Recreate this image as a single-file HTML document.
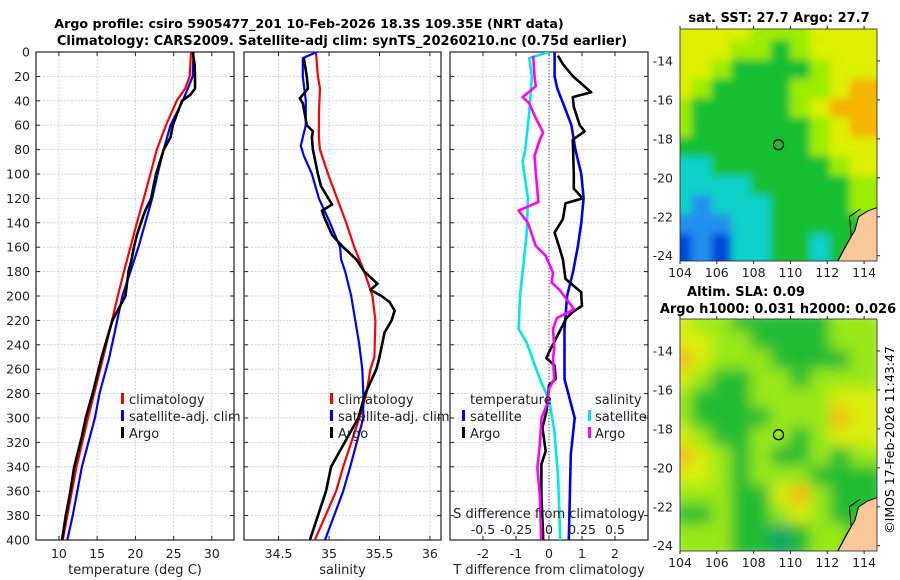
<!DOCTYPE html>
<html><head><meta charset="utf-8"><style>
html,body{margin:0;padding:0;background:#fff;}
svg{display:block;font-family:"DejaVu Sans","Liberation Sans",sans-serif;}
</style></head><body>
<svg id="fig" width="900" height="580" viewBox="0 0 900 580" xmlns="http://www.w3.org/2000/svg">
<text x="309" y="28" text-anchor="middle" font-size="12.7" font-weight="bold">Argo profile: csiro 5905477_201 10-Feb-2026 18.3S 109.35E (NRT data)</text>
<text x="342" y="45" text-anchor="middle" font-size="13" font-weight="bold">Climatology: CARS2009. Satellite-adj clim: synTS_20260210.nc (0.75d earlier)</text>
<text x="779" y="22" text-anchor="middle" font-size="13" font-weight="bold">sat. SST: 27.7 Argo: 27.7</text>
<text x="746" y="296" text-anchor="middle" font-size="13" font-weight="bold">Altim. SLA: 0.09</text>
<text x="778" y="313" text-anchor="middle" font-size="13" font-weight="bold">Argo h1000: 0.031 h2000: 0.026</text>
<text transform="translate(894,440) rotate(-90)" text-anchor="middle" font-size="12.5">©IMOS 17-Feb-2026 11:43:47</text>
<defs><filter id="blur" x="0" y="0" width="1" height="1"><feGaussianBlur stdDeviation="7"/></filter>
<filter id="blur2" x="0" y="0" width="1" height="1"><feGaussianBlur stdDeviation="4"/></filter>
<clipPath id="c1"><rect x="680" y="29" width="197" height="232"/></clipPath>
<clipPath id="c2"><rect x="680" y="319" width="197" height="232"/></clipPath>
<clipPath id="p1"><rect x="36" y="52" width="198" height="488"/></clipPath>
<clipPath id="p2"><rect x="244" y="52" width="197" height="488"/></clipPath>
<clipPath id="p3"><rect x="450" y="52" width="198" height="488"/></clipPath>
</defs>
</svg>
<script>
// ---- data ----
const depthTick = [0,20,40,60,80,100,120,140,160,180,200,220,240,260,280,300,320,340,360,380,400];
const tTicks = [10,15,20,25,30];
const sTicks = [34.5,35,35.5,36];
const dTicks = [-2,-1,0,1,2];
const sdTicks = [-0.5,-0.25,0,0.25,0.5];
const sdTickLabels = ['-0.5','-0.25','0','0.25','0.5'];
const lonTicks = [104,106,108,110,112,114];
const latTicks = [-14,-16,-18,-20,-22,-24];

const tClimDepth = [0,20,30,40,60,80,100,120,140,160,180,200,250,280,300,340,380,400];
const tClim      = [27.27,27.1,26.5,25.4,24.0,22.8,21.96,21.1,20.2,19.35,18.5,17.7,15.8,14.6,13.8,12.3,11.1,10.5];
const tSatDepth  = [0,20,40,60,80,100,120,140,160,180,200,250,280,300,340,380,400];
const tSat       = [27.6,27.5,26.2,24.6,23.7,22.9,22.2,21.3,20.4,19.35,18.3,16.6,15.3,14.7,13.0,11.8,11.1];
const tArgoDepth = [0,10,20,30,35,40,60,70,80,100,120,130,135,150,160,170,180,200,220,250,280,300,315,340,360,380,400];
const tArgo      = [27.5,27.75,27.8,27.8,27.2,26.1,24.9,24.6,23.7,22.7,22.05,21.3,21.0,20.2,19.8,19.5,19.1,18.7,17.0,15.6,14.4,13.5,13.0,12.0,11.5,10.9,10.4];

const sClimDepth = [0,20,30,50,70,80,100,120,140,160,180,200,220,250,260,280,300,340,360,400];
const sClim      = [34.87,34.89,34.91,34.90,34.90,34.91,34.99,35.08,35.17,35.25,35.35,35.43,35.46,35.45,35.41,35.37,35.30,35.14,35.07,34.86];
const sSatDepth  = [0,5,20,40,60,70,77,85,100,120,140,160,170,180,200,240,260,280,300,340,360,400];
const sSat       = [34.88,34.74,34.74,34.77,34.77,34.74,34.72,34.75,34.83,34.90,35.01,35.11,35.12,35.16,35.22,35.30,35.33,35.34,35.34,35.21,35.14,34.96];
const sArgoDepth = [5,20,30,38,42,60,65,70,80,100,110,125,130,135,150,160,170,180,190,195,200,205,212,220,230,250,260,280,300,340,360,400];
const sArgo      = [34.75,34.78,34.79,34.71,34.74,34.78,34.84,34.83,34.84,34.89,34.92,35.03,34.93,34.95,35.03,35.14,35.27,35.35,35.48,35.41,35.52,35.60,35.65,35.62,35.55,35.50,35.47,35.36,35.29,35.02,34.97,34.81];

const dTSatDepth = [0,20,30,45,60,80,100,120,140,160,180,200,227,268,300,330,400];
const dTSat      = [0.17,0.17,0.25,0.47,0.68,0.8,0.98,1.05,0.98,0.87,0.73,0.55,0.47,0.47,0.78,0.66,0.6];
const dTArgoDepth= [3,10,20,33,37,45,60,65,72,100,112,120,124,137,148,159,170,186,197,200,208,213,218,246,251,257,268,273,295,308,327,338,363,396,400];
const dTArgo     = [0.27,0.42,0.73,1.28,0.72,0.75,0.93,1.08,0.72,0.75,0.75,1.02,0.5,0.42,0.17,0.3,0.42,0.5,0.98,0.98,1.0,0.72,0.53,0.0,-0.08,0.17,0.2,0.0,-0.08,-0.2,-0.1,-0.23,-0.23,-0.18,-0.18];
const dSSatDepth = [0,5,20,50,80,90,120,150,180,200,227,238,268,285,310,350,400];
const dSSat      = [0.0,-0.15,-0.13,-0.15,-0.18,-0.2,-0.16,-0.17,-0.2,-0.22,-0.23,-0.17,-0.07,0.0,0.04,0.07,0.085];
const dSArgoDepth= [3,20,28,37,42,52,66,72,85,99,123,130,140,159,167,181,189,195,211,218,227,243,251,268,276,287,300,322,341,363,396,400];
const dSArgo     = [-0.12,-0.11,-0.1,-0.2,-0.15,-0.11,-0.045,-0.07,-0.11,-0.1,-0.08,-0.23,-0.16,-0.1,-0.025,0.03,0.02,0.08,0.19,0.06,0.03,0.04,0.03,0.04,0.0,-0.008,-0.057,-0.07,-0.088,-0.07,-0.06,-0.06];

// map grids: rows from north (-12.4) to south (-24.3), 10 columns lon 104..114.7
const sstGrid = [
 "YYYYLLLYYY","YYYLLGLYYY","YYLGGGGLYY","YLGGGGLLYO","LGGGGGLYOO","LGGGGGGLYO",
 "GGGGGGGLYY","CCGGGGGGLY","CCCCGGGGGL","CBCCCGGGGL","BBBCCGGGGS","KBKCCGGCGS"];
const slaGrid = [
 "YLLGGGGGLL","YYLLGGGGLL","OYLLLGGGGL","YLGGLLGLLL","LGGGLLLLYY","LGGGGLLLOY",
 "YLGGLLGLYY","OYLGLGGLGL","YYLGLLLGGG","LLLGGYOLGG","GGLGGLYLGS","LLLGGCGLLS"];
const argoLon = 109.35, argoLat = -18.3;

// ---- helpers ----
const svg = document.getElementById('fig');
const NS = 'http://www.w3.org/2000/svg';
function mk(tag, attrs, parent){ const e=document.createElementNS(NS,tag); for(const k in attrs) e.setAttribute(k,attrs[k]); (parent||svg).appendChild(e); return e; }
const Y0=52, Y1=540;
const yD = d => Y0 + d/400*(Y1-Y0);

const panels = [
 {x0:36,x1:234,lo:7,hi:32.9,name:'temperature-panel',clip:'p1'},
 {x0:244,x1:441,lo:34.157,hi:36.11,name:'salinity-panel',clip:'p2'},
 {x0:450,x1:648,lo:-3,hi:3,name:'difference-panel',clip:'p3'}
];
panels.forEach(p=>{ p.fx = v => p.x0 + (v-p.lo)/(p.hi-p.lo)*(p.x1-p.x0); });
const fS = s => panels[2].fx(s*4);

function gridAndAxes(p, ticks, labels, xlabel){
  const g = mk('g',{});
  
  
  depthTick.forEach(d=>{ if(d>0&&d<400){ const l=mk('line',{x1:p.x0,x2:p.x1,y1:yD(d),y2:yD(d),stroke:'#c4cbe6','stroke-width':0.8,'stroke-dasharray':'2,1.5'},g);
      }
    mk('line',{x1:p.x0,x2:p.x0+4,y1:yD(d),y2:yD(d),stroke:'#222'},g); mk('line',{x1:p.x1-4,x2:p.x1,y1:yD(d),y2:yD(d),stroke:'#222'},g);});
  ticks.forEach((t,i)=>{ const x=p.fx(t);
    const l=mk('line',{x1:x,x2:x,y1:Y0,y2:Y1,stroke:'#c4cbe6','stroke-width':0.8,'stroke-dasharray':'2,1.5'},g);
     
    mk('line',{x1:x,x2:x,y1:Y1-4,y2:Y1,stroke:'#222'},g); mk('line',{x1:x,x2:x,y1:Y0,y2:Y0+4,stroke:'#222'},g);
    const tx=mk('text',{x:x,y:558,'text-anchor':'middle','font-size':12.5,fill:'#222'},g); tx.textContent=labels[i];
      });
  const r=mk('rect',{x:p.x0,y:Y0,width:p.x1-p.x0,height:Y1-Y0,fill:'none',stroke:'#222','stroke-width':1.2},g);
   
  const xl=mk('text',{x:(p.x0+p.x1)/2,y:574,'text-anchor':'middle','font-size':13,fill:'#222'},g); xl.textContent=xlabel;
   
  return g;
}
function line(p, xs, ds, color, w, fx, name){
  const pts = xs.map((v,i)=> fx(v).toFixed(1)+','+yD(ds[i]).toFixed(1)).join(' ');
  const e=mk('polyline',{points:pts,fill:'none',stroke:color,'stroke-width':w,'stroke-linejoin':'round','clip-path':'url(#'+p.clip+')'});
  
  
}
function txt(x,y,s,size,name,anchor){ const t=mk('text',{x:x,y:y,'font-size':size,fill:'#222','text-anchor':anchor||'start'}); t.textContent=s;
    return t; }
function legendMark(x,y,color){ const m=mk('rect',{x:x,y:y-11,width:3,height:11,fill:color});
    }

depthTick.forEach(d=> txt(30, yD(d)+4.5, String(d), 12.5, 'y-tick-label','end'));

gridAndAxes(panels[0], tTicks, tTicks.map(String), 'temperature (deg C)');
gridAndAxes(panels[1], sTicks, sTicks.map(String), 'salinity');
gridAndAxes(panels[2], dTicks, dTicks.map(String), 'T difference from climatology');
const z = mk('line',{x1:panels[2].fx(0),x2:panels[2].fx(0),y1:Y0,y2:Y1,stroke:'#555','stroke-width':1,'stroke-dasharray':'1.2,1.8'});
 

line(panels[0], tClim, tClimDepth, '#ff0000', 2.2, panels[0].fx, 'temperature-climatology-line');
line(panels[0], tSat, tSatDepth, '#0000ff', 2.2, panels[0].fx, 'temperature-satellite-line');
line(panels[0], tArgo, tArgoDepth, '#000000', 2.6, panels[0].fx, 'temperature-argo-line');
line(panels[1], sClim, sClimDepth, '#ff0000', 2.2, panels[1].fx, 'salinity-climatology-line');
line(panels[1], sSat, sSatDepth, '#0000ff', 2.2, panels[1].fx, 'salinity-satellite-line');
line(panels[1], sArgo, sArgoDepth, '#000000', 2.6, panels[1].fx, 'salinity-argo-line');
line(panels[2], dSSat, dSSatDepth, '#00e8e8', 2.6, fS, 'salinity-satellite-diff-line');
line(panels[2], dTSat, dTSatDepth, '#0000ee', 2.6, panels[2].fx, 'temperature-satellite-diff-line');
line(panels[2], dTArgo, dTArgoDepth, '#000000', 2.6, panels[2].fx, 'temperature-argo-diff-line');
line(panels[2], dSArgo, dSArgoDepth, '#ff00ff', 2.6, fS, 'salinity-argo-diff-line');

[[0,121],[1,330]].forEach(([pi,lx])=>{
  legendMark(lx,404,'#ff0000'); txt(lx+8,404,'climatology',13,'legend-climatology');
  legendMark(lx,421,'#0000ff'); txt(lx+8,421,'satellite-adj. clim',13,'legend-satellite');
  legendMark(lx,438,'#000000'); txt(lx+8,438,'Argo',13,'legend-argo');
});
txt(470,404,'temperature',13,'legend-temperature-heading');
legendMark(462,421,'#0000ff'); txt(470,421,'satellite',13,'legend-t-satellite');
legendMark(462,438,'#000000'); txt(470,438,'Argo',13,'legend-t-argo');
txt(595,404,'salinity',13,'legend-salinity-heading');
legendMark(588,421,'#00e8e8'); txt(595,421,'satellite',13,'legend-s-satellite');
legendMark(588,438,'#ff00ff'); txt(595,438,'Argo',13,'legend-s-argo');
txt(549,518,'S difference from climatology',13,'s-diff-axis-title','middle');
sdTicks.forEach((s,i)=> txt(fS(s), 534, sdTickLabels[i], 12.5, 's-diff-tick-label','middle'));

const colors = {Y:'#dcf000',L:'#9cec00',G:'#14c030',O:'#f4b400',C:'#10d0c8',B:'#2090f0',K:'#0048d8',S:'#f8c898'};
const slaColors = {Y:'#d8ee10',L:'#98e818',G:'#20bc30',O:'#f4b818',C:'#18a868',S:'#f8c898'};
function drawMap(top, grid, cmap, filt, clip, name){
  const x0=680,x1=877,y1=top+232, lonLo=104,lonHi=114.7,latHi=-12.36,latLo=-24.27;
  const fx = lon => x0+(lon-lonLo)/(lonHi-lonLo)*(x1-x0);
  const fy = lat => top+(latHi-lat)/(latHi-latLo)*(y1-top);
  const g = mk('g',{'clip-path':'url(#'+clip+')'});
  
  
  const gi = mk('g', {filter:'url(#'+filt+')'}, g);
  const nr=grid.length, nc=grid[0].length, cw=(x1-x0)/nc, ch=232/nr;
  grid.forEach((row,r)=>[...row].forEach((c,k)=>{
    mk('rect',{x:x0+k*cw-8,y:top+r*ch-8,width:cw+16,height:ch+16,fill:cmap[c==='S'?'G':c]},gi);
  }));
  // redraw cells at native size to keep patches crisp-ish underneath blur edges
  const land = [[112.5,-24.4],[113.0,-23.5],[113.5,-22.7],[113.7,-22.0],[114.2,-21.7],[114.8,-21.5],[114.8,-24.4]];
  const lp = land.map(q=>fx(q[0]).toFixed(1)+','+fy(q[1]).toFixed(1)).join(' ');
  const ln=mk('polygon',{points:lp,fill:'#f8c898',stroke:'#000','stroke-width':1},g);
   
  const cs = mk('path',{d:'M'+fx(112.5)+','+fy(-24.4)+' L'+fx(113.3)+','+fy(-23.0)+' L'+fx(113.2)+','+fy(-22.0)+' L'+fx(113.8)+','+fy(-21.6),fill:'none',stroke:'#000','stroke-width':1},g);
   
  const circ=mk('circle',{cx:fx(argoLon),cy:fy(argoLat),r:5,fill:'none',stroke:'#000','stroke-width':1.3});
   
  const fr=mk('rect',{x:x0,y:top,width:x1-x0,height:232,fill:'none',stroke:'#222','stroke-width':0.8});
   
  lonTicks.forEach(l=>{ const x=fx(l); mk('line',{x1:x,x2:x,y1:y1,y2:y1+3,stroke:'#222'}); mk('line',{x1:x,x2:x,y1:top,y2:top-3,stroke:'#222'});
    txt(x, y1+16, String(l), 12.5, 'lon-tick-label','middle'); });
  latTicks.forEach(l=>{ const y=fy(l); mk('line',{x1:x1,x2:x1+3,y1:y,y2:y,stroke:'#222'});
    txt(673, y+4.5, String(l), 12.5, 'lat-tick-label','end'); });
}
drawMap(29, sstGrid, colors, 'blur2', 'c1', 'sst-map');
drawMap(319, slaGrid, slaColors, 'blur', 'c2', 'sla-map');
</script>
</body></html>
